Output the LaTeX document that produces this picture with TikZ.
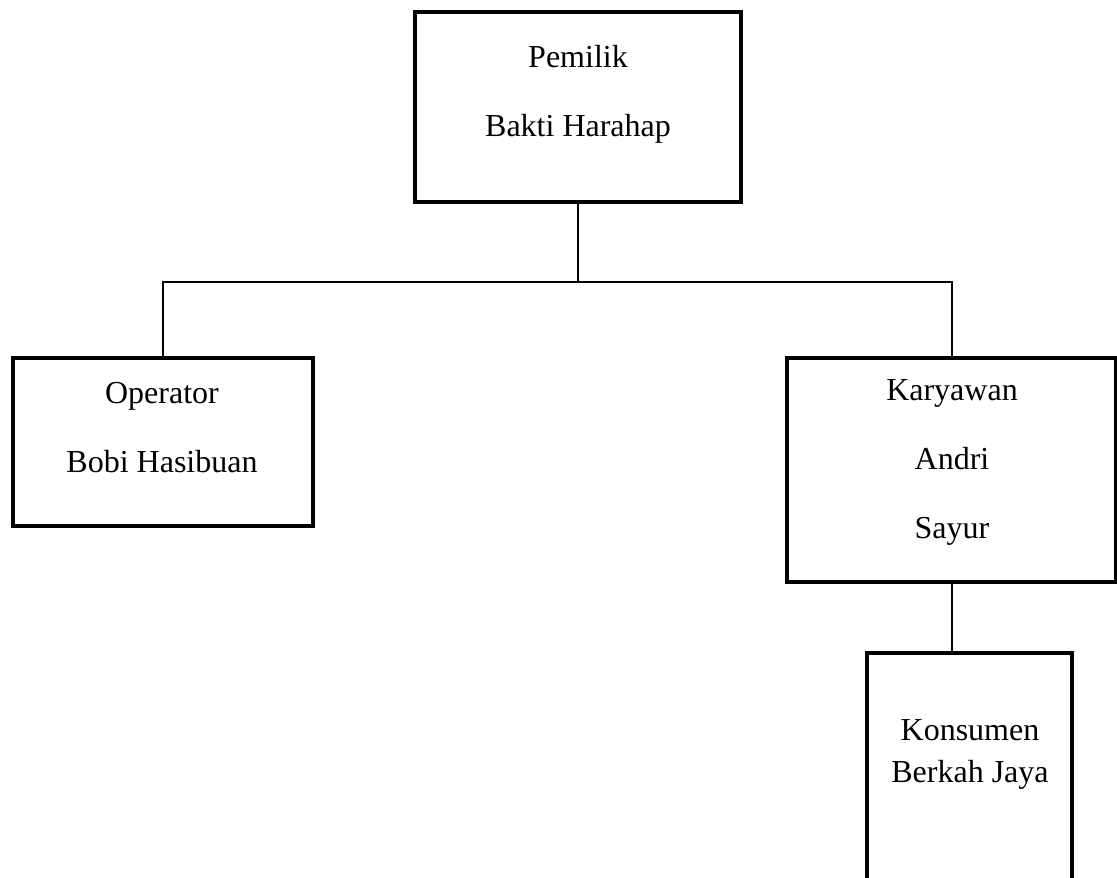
\documentclass[tikz,border=0pt]{standalone}
\usepackage{fontspec}
\setmainfont{Liberation Serif}
\usetikzlibrary{positioning}

\tikzset{
  kotak/.style={draw, line width=2pt, inner sep=0pt},
  teks/.style={font=\fontsize{16pt}{19pt}\selectfont, anchor=base, inner sep=0pt},
  garis/.style={line width=1pt}
}

\begin{document}
\begin{tikzpicture}[x=0.5pt, y=-0.5pt]
    \useasboundingbox (0,0) rectangle (1117,877);
    \clip (0,0) rectangle (1117,877);

    \node[kotak, minimum width=163pt, minimum height=95pt] (pemilik) at (578,107) {};
    \node[teks] (pemilik1) at (578,68) {Pemilik};
    \node[teks] (pemilik2) at (578,137) {Bakti Harahap};

    \node[kotak, minimum width=150pt, minimum height=84pt] (operator) at (163,442) {};
    \node[teks] (operator1) at (162,403) {Operator};
    \node[teks] (operator2) at (162,472) {Bobi Hasibuan};

    \node[kotak, minimum width=164.5pt, minimum height=112pt] (karyawan) at (951.5,470) {};
    \node[teks] (karyawan1) at (952,400) {Karyawan};
    \node[teks] (karyawan2) at (952,469) {Andri};
    \node[teks] (karyawan3) at (952,538) {Sayur};

    \node[kotak, minimum width=102.5pt, minimum height=128.5pt] (konsumen) at (969.5,781.5) {};
    \node[teks] (konsumen1) at (970,740) {Konsumen};
    \node[teks] (konsumen2) at (970,782) {Berkah Jaya};

    \coordinate (cabang) at (578,282);
    \draw[garis] (pemilik.south) -- (cabang);
    \draw[garis] (operator.north) |- (cabang) -| (karyawan.north);
    \draw[garis] (karyawan.south) -- (karyawan.south |- konsumen.north);
\end{tikzpicture}
\end{document}
